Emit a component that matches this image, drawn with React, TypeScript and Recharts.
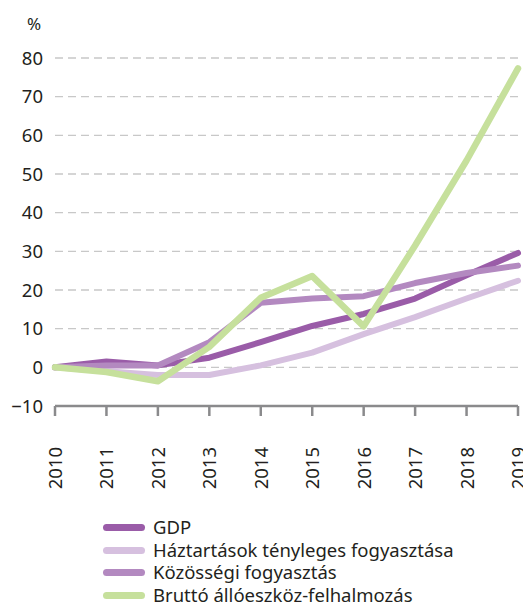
import React from 'react';
import { LineChart, Line, XAxis, YAxis, CartesianGrid } from 'recharts';

const years = ['2010', '2011', '2012', '2013', '2014', '2015', '2016', '2017', '2018', '2019'];
const gdp = [0, 1.5, 0.5, 2.5, 6.5, 10.7, 13.8, 17.8, 23.8, 29.6];
const haztartasok = [0, -1, -2, -2, 0.5, 3.8, 8.6, 13, 17.8, 22.4];
const kozossegi = [0, 0.5, 0.5, 6.5, 16.7, 17.8, 18.4, 21.8, 24.4, 26.3];
const brutto = [0, -1.2, -3.6, 5.3, 18, 23.6, 10.6, 31.5, 53.5, 77.3];
const yTicks = [-10, 0, 10, 20, 30, 40, 50, 60, 70, 80];

const series = [
  { key: 'haz', name: 'Háztartások tényleges fogyasztása', color: '#d6c0df', width: 6 },
  { key: 'gdp', name: 'GDP', color: '#9a5ca8', width: 6 },
  { key: 'koz', name: 'Közösségi fogyasztás', color: '#b389c0', width: 6 },
  { key: 'bru', name: 'Bruttó állóeszköz-felhalmozás', color: '#c6e09c', width: 6.5 },
];
const legendOrder = ['gdp', 'haz', 'koz', 'bru'];

const data = years.map((y, i) => ({
  year: y,
  gdp: gdp[i],
  haz: haztartasok[i],
  koz: kozossegi[i],
  bru: brutto[i],
}));

const FONT = '"Noto Sans", "Open Sans", sans-serif';

const XTick = (props: any) => {
  const { x, y, payload } = props;
  return (
    <text
      x={0}
      y={0}
      transform={`translate(${x + 7},${y + 29}) rotate(-90)`}
      textAnchor="end"
      fontSize={18.5}
      fill="#231f20"
      fontFamily={FONT}
    >
      {payload.value}
    </text>
  );
};

const LegendBox = () => (
  <div
    style={{
      position: 'absolute',
      left: 103,
      top: 516,
      fontFamily: FONT,
      fontSize: 18.5,
      color: '#231f20',
      lineHeight: '22.7px',
    }}
  >
    {legendOrder.map((k) => {
      const s = series.find((q) => q.key === k)!;
      return (
        <div key={k} style={{ display: 'flex', alignItems: 'center', whiteSpace: 'nowrap' }}>
          <span
            style={{
              display: 'inline-block',
              width: 42,
              height: 7,
              borderRadius: 4,
              background: s.color,
              marginRight: 8,
            }}
          />
          <span>{s.name}</span>
        </div>
      );
    })}
  </div>
);

export default function App() {
  return (
    <div style={{ position: 'absolute', left: 0, top: 0, width: 523, height: 605, background: '#fff' }}>
      <LineChart
        width={523}
        height={605}
        data={data}
        margin={{ top: 58, right: 5, bottom: 119, left: 0 }}
      >
        <CartesianGrid
          horizontal
          vertical={false}
          stroke="#c8c8c8"
          strokeDasharray="8 5"
          strokeWidth={1.3}
        />
        <XAxis
          dataKey="year"
          tick={<XTick />}
          interval={0}
          axisLine={{ stroke: '#8a8a8c', strokeWidth: 2.5 }}
          tickLine={{ stroke: '#8a8a8c', strokeWidth: 2.5 }}
          tickSize={10}
          height={80}
        />
        <YAxis
          width={55}
          domain={[-10, 80]}
          ticks={yTicks}
          interval={0}
          axisLine={false}
          tickLine={false}
          tickSize={0}
          tickMargin={12}
          tick={{ fontSize: 18.5, fill: '#231f20', fontFamily: FONT }}
          tickFormatter={(v: number) => (v < 0 ? `\u2212${Math.abs(v)}` : `${v}`)}
        />
        {series.map((s) => (
          <Line
            key={s.key}
            dataKey={s.key}
            name={s.name}
            stroke={s.color}
            strokeWidth={s.width}
            dot={false}
            activeDot={false}
            isAnimationActive={false}
            strokeLinecap="round"
            strokeLinejoin="round"
            type="linear"
          />
        ))}
      </LineChart>
      <div
        style={{
          position: 'absolute',
          left: 27,
          top: 12,
          fontFamily: FONT,
          fontSize: 17,
          color: '#231f20',
        }}
      >
        %
      </div>
      <LegendBox />
    </div>
  );
}
